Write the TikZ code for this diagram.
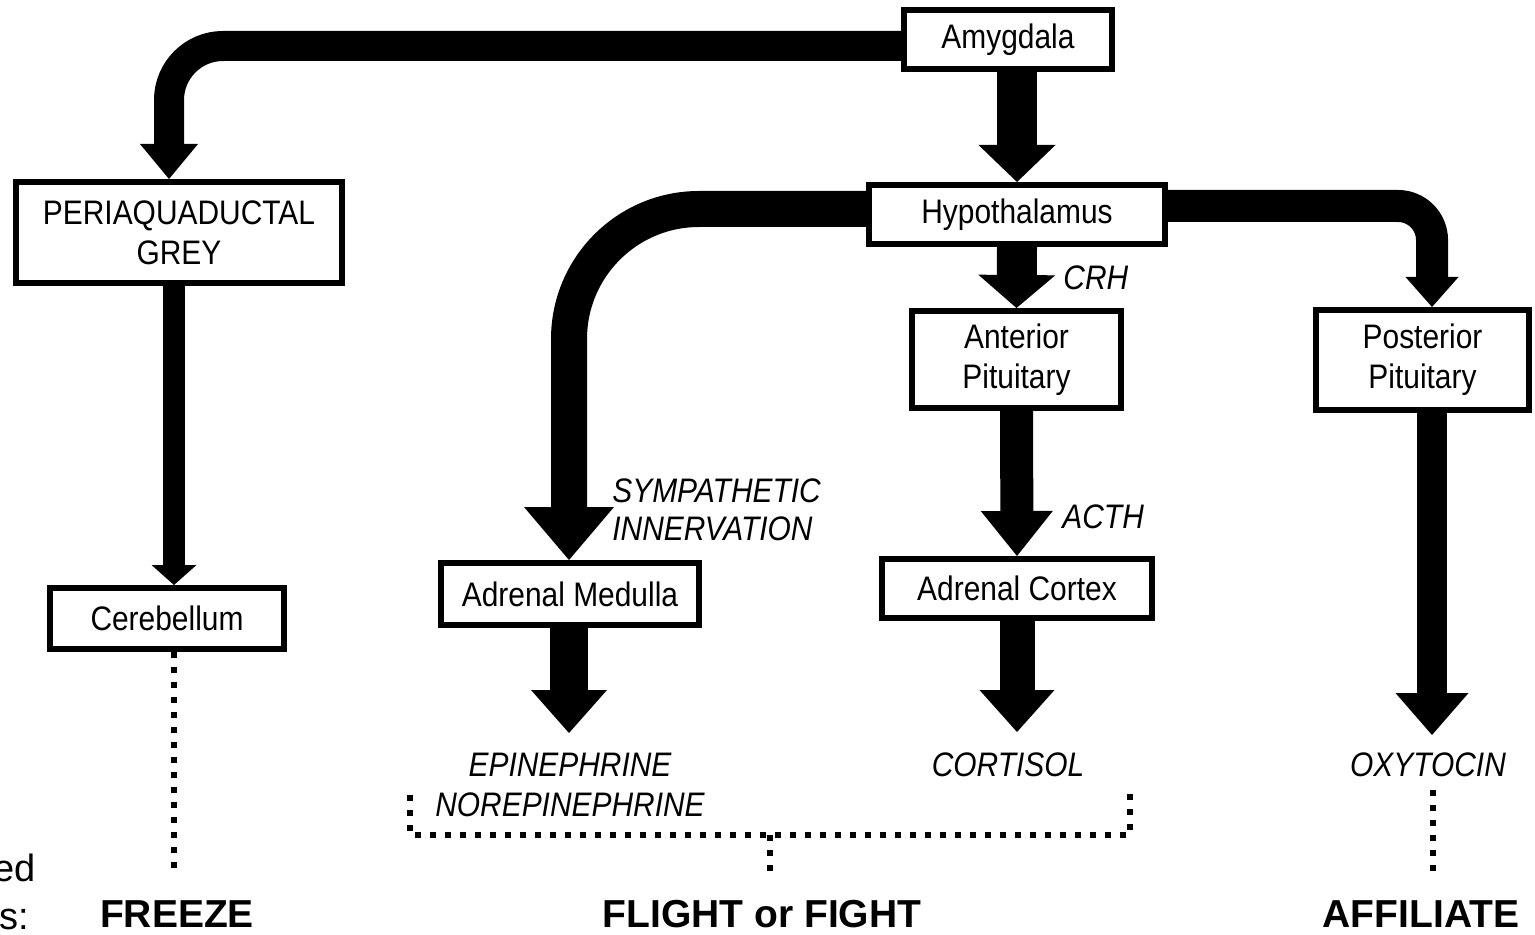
\documentclass[tikz,border=0pt]{standalone}
\usepackage{fontspec}
\newfontfamily\nfont[FakeStretch=0.88]{Liberation Sans}
\newfontfamily\bfont{Liberation Sans}
\usetikzlibrary{arrows.meta}
\tikzset{ah/.style 2 args={-{Triangle[width=#1,length=#2,line width=0pt]}}}
\begin{document}
\begin{tikzpicture}[x=0.5pt,y=-0.5pt,
 box/.style={draw, line width=3pt, inner sep=0pt, align=center, font=\nfont\fontsize{17}{20}\selectfont},
 lbl/.style={inner sep=0pt, align=center, font=\nfont\itshape\fontsize{17}{20}\selectfont},
 outc/.style={inner sep=0pt, font=\bfont\bfseries\fontsize{19.5}{24}\selectfont},
 cuttxt/.style={inner sep=0pt, font=\bfont\fontsize{19}{22}\selectfont},
 dotl/.style={line width=3pt, dash pattern=on 3pt off 4.5pt},
]
\useasboundingbox (0,0) rectangle (1535,935);

% boxes
\node[box, minimum width=104pt, minimum height=29.5pt] (A) at (1008,39.5) {Amygdala};
\node[box, minimum width=148pt, minimum height=29.5pt] (H) at (1017,214.5) {Hypothalamus};
\node[box, minimum width=163pt, minimum height=50.5pt] (PAG) at (179,232.5) {PERIAQUADUCTAL\\GREY};
\node[box, minimum width=117pt, minimum height=30.5pt] (Cer) at (167,618.5) {Cerebellum};
\node[box, minimum width=129pt, minimum height=31pt] (AM) at (570,594) {Adrenal Medulla};
\node[box, minimum width=104.5pt, minimum height=48.5pt] (AP) at (1016.5,359.5) {Anterior\\Pituitary};
\node[box, minimum width=135pt, minimum height=29.5pt] (AC) at (1017,588.5) {Adrenal Cortex};
\node[box, minimum width=106.5pt, minimum height=50pt] (PP) at (1422.5,360) {Posterior\\Pituitary};

% labels
\node[lbl, anchor=west] (crh) at (1063,278) {CRH};
\node[lbl, anchor=west] (acth) at (1062,517) {ACTH};
\node[lbl, anchor=west, align=left, font=\nfont\itshape\fontsize{17}{19}\selectfont] (sym) at (612,510) {SYMPATHETIC\\INNERVATION};
\node[lbl] (epi) at (570,785) {EPINEPHRINE\\NOREPINEPHRINE};
\node[lbl] (cort) at (1008,765) {CORTISOL};
\node[lbl] (oxy) at (1428,765) {OXYTOCIN};
\node[outc] (frz) at (177,914) {FREEZE};
\node[outc] (ff) at (762,914) {FLIGHT or FIGHT};
\node[outc] (aff) at (1421,914) {AFFILIATE};
\node[cuttxt, anchor=base east] (cut1) at (36,881) {ed};
\node[cuttxt, anchor=base east] (cut2) at (29,929) {s:};

% connectors
\coordinate (apC) at (169,46);
\draw[line width=15pt, rounded corners=27pt, ah={29pt}{17.5pt}] (A.west |- apC) -| (PAG.north -| apC);
\draw[line width=20pt, ah={38.5pt}{18.5pt}] (H.north |- A.south) -- (H.north);
\coordinate (hamC) at (569,209);
\draw[line width=18pt, rounded corners=65pt, ah={45pt}{26.5pt}] (H.west |- hamC) -| (AM.north -| hamC);
\coordinate (hppC) at (1432,206);
\draw[line width=16pt, rounded corners=17pt, ah={26.5pt}{15pt}] (H.east |- hppC) -| (PP.north -| hppC);
\draw[line width=20pt, ah={38.5pt}{16.5pt}] (H.south) -- (AP.north);
\draw[line width=16.5pt, ah={36pt}{22.5pt}] (AP.south) -- (AC.north);
\coordinate (pagX) at (174,400);
\draw[line width=11pt, ah={22.5pt}{10pt}] (PAG.south -| pagX) -- (Cer.north -| pagX);
\coordinate (epiTip) at (569,733);
\draw[line width=19pt, ah={38pt}{21.5pt}] (AM.south -| epiTip) -- (epiTip);
\coordinate (cortTip) at (1017,732);
\draw[line width=17.5pt, ah={37.5pt}{21pt}] (AC.south) -- (cortTip);
\coordinate (oxyTip) at (1432,735);
\draw[line width=15pt, ah={36.5pt}{21pt}] (PP.south -| oxyTip) -- (oxyTip);

% dotted lines
\coordinate (frzTop) at (174,875);
\draw[dotl] (Cer.south -| frzTop) -- (frzTop);
\coordinate (oxyA) at (1433,790);
\coordinate (oxyB) at (1433,878);
\draw[dotl] (oxyA) -- (oxyB);
\coordinate (brL) at (410,795);
\coordinate (brR) at (1130,793);
\coordinate (brM) at (770,835);
\coordinate (ffTop) at (770,880);
\draw[dotl] (brL) |- (brM) -| (brR);
\draw[dotl] (brM) -- (ffTop);
\end{tikzpicture}
\end{document}
